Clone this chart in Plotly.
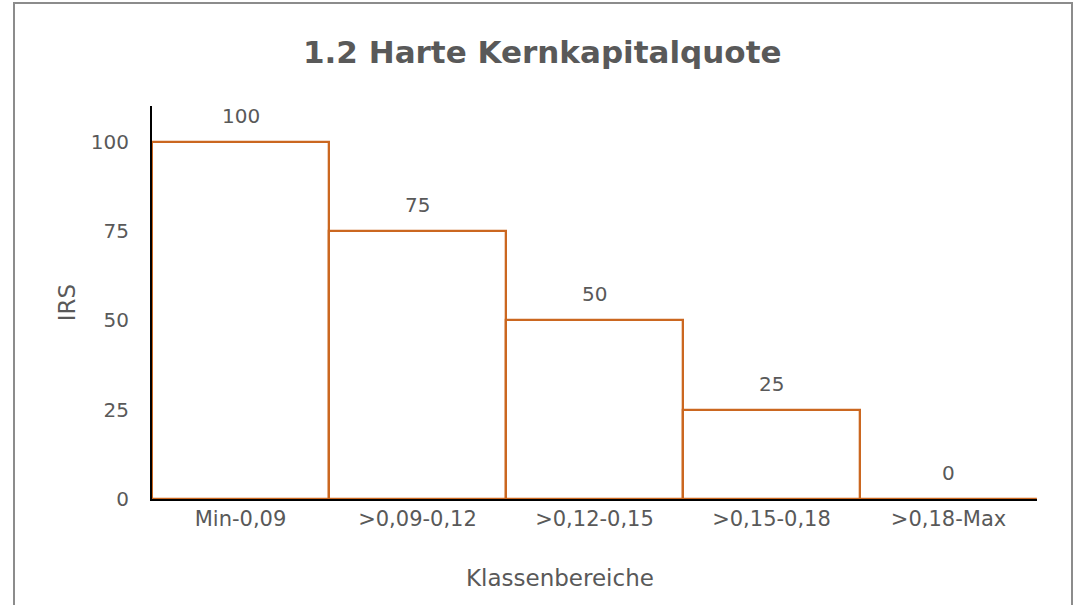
import plotly.graph_objects as go

categories = ["Min-0,09", ">0,09-0,12", ">0,12-0,15", ">0,15-0,18", ">0,18-Max"]
irs_values = [100, 75, 50, 25, 0]
y_ticks = [0, 25, 50, 75, 100]

title_text = "1.2 Harte Kernkapitalquote"
x_title = "Klassenbereiche"
y_title = "IRS"

TXT = "#595959"
BAR = "#CB6720"
FONT = "DejaVu Sans"

W, H = 1074, 605
L, R, T, B = 152, 37, 106, 106
pw, ph = W - L - R, H - T - B


def px_x(p):
    return (p - L) / pw


def px_y(p):
    return (H - B - p) / ph


fig = go.Figure()
fig.add_trace(go.Bar(
    x=categories, y=irs_values,
    marker=dict(color="rgba(255,255,255,0)", line=dict(color=BAR, width=2.3)),
    width=1.0, hoverinfo="skip",
))

for c, v in zip(categories, irs_values):
    fig.add_annotation(x=c, y=v, text=str(v), showarrow=False, yanchor="bottom",
                       yshift=12, font=dict(family=FONT, size=20, color=TXT))

# x-axis title (Excel places it slightly left of the plot centre)
fig.add_annotation(xref="paper", yref="paper", x=px_x(560), y=px_y(578),
                   xanchor="center", yanchor="middle", showarrow=False,
                   text=x_title, font=dict(family=FONT, size=23, color=TXT))

# chart title, centred on the chart-area frame
fig.add_annotation(xref="paper", yref="paper", x=px_x(542), y=px_y(52),
                   xanchor="center", yanchor="middle", showarrow=False,
                   text=f"<b>{title_text}</b>", font=dict(family=FONT, size=31, color=TXT))

# chart-area frame
fig.add_shape(type="rect", xref="paper", yref="paper",
              x0=px_x(14), x1=px_x(1072), y0=px_y(625), y1=px_y(3),
              line=dict(color="#8C8C8C", width=2), fillcolor="rgba(0,0,0,0)", layer="below")

fig.update_layout(
    width=W, height=H,
    margin=dict(l=L, r=R, t=T, b=B),
    paper_bgcolor="white", plot_bgcolor="white",
    showlegend=False, bargap=0,
    font=dict(family=FONT, color=TXT),
)
fig.update_xaxes(
    showline=True, linecolor="black", linewidth=2, showgrid=False, ticks="",
    tickfont=dict(family=FONT, size=21, color=TXT), ticklabelstandoff=0,
)
fig.update_yaxes(
    range=[0, 110], showline=True, linecolor="black", linewidth=2, showgrid=False,
    tickvals=y_ticks, ticktext=[str(t) for t in y_ticks], ticks="",
    tickfont=dict(family=FONT, size=20, color=TXT), ticklabelstandoff=17,
    zeroline=False,
    title=dict(text=y_title, standoff=9, font=dict(family=FONT, size=23, color=TXT)),
)

fig.write_html("out.html", config={"displayModeBar": False},
               post_script="document.body.style.margin='0';document.body.style.overflow='hidden';")
